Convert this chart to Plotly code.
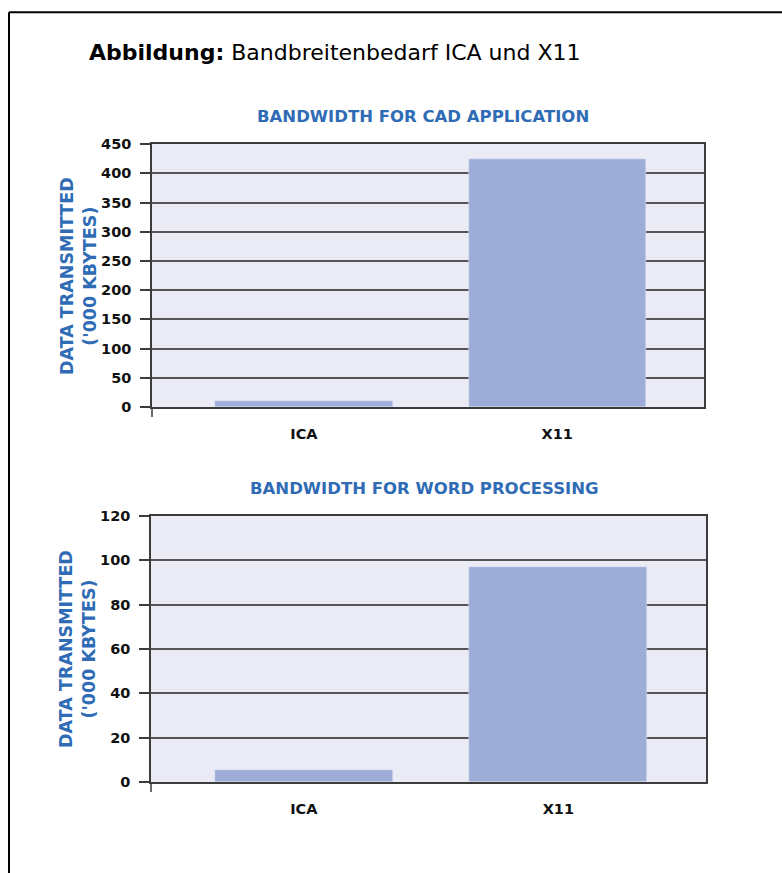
import plotly.graph_objects as go

# ---- data ----
categories = ["ICA", "X11"]
cad_values = [10, 424]
word_values = [5.3, 97]
cad_ticks = [0, 50, 100, 150, 200, 250, 300, 350, 400, 450]
word_ticks = [0, 20, 40, 60, 80, 100, 120]

main_title = "<b>Abbildung:</b> Bandbreitenbedarf ICA und X11"
cad_title = "BANDWIDTH FOR CAD APPLICATION"
word_title = "BANDWIDTH FOR WORD PROCESSING"
y_title = "DATA TRANSMITTED<br>('000 KBYTES)"

W, H = 782, 873
BLUE = "#2f6cb5"
BAR = "#9dadd7"
BG = "#ebebf6"
GRID = "#555555"
AX = "#3c3c3c"
BOLD = "DejaVu Sans"

fig = go.Figure()
fig.add_trace(go.Bar(x=categories, y=cad_values, marker_color=BAR, width=0.7,
                     xaxis="x", yaxis="y", showlegend=False))
fig.add_trace(go.Bar(x=categories, y=word_values, marker_color=BAR, width=0.7,
                     xaxis="x2", yaxis="y2", showlegend=False))

VS = 0.982  # observed vertical scaling of the photographed page


def px_x(p):
    return p / W


def px_y(p):
    q = H / 2 + (p - H / 2) / VS
    return 1 - q / H


xcommon = dict(type="category", range=[-0.6, 1.58], showgrid=False, ticks="",
               showline=True, linecolor=AX, linewidth=1.5, mirror=True,
               tickfont=dict(family=BOLD, size=14.5, color="#111", weight="bold"),
               ticklabelstandoff=13, fixedrange=True)
ycommon = dict(showgrid=True, gridcolor=GRID, gridwidth=1.6, zeroline=False,
               showline=True, linecolor=AX, linewidth=1.5, mirror=True,
               ticks="outside", ticklen=10, tickwidth=1.5, tickcolor=AX,
               tickfont=dict(family=BOLD, size=14.5, color="#111", weight="bold"),
               ticklabelstandoff=6, fixedrange=True)

fig.update_layout(
    width=W, height=H, margin=dict(l=0, r=0, t=0, b=0),
    paper_bgcolor="white", plot_bgcolor=BG, bargap=0,
    xaxis=dict(domain=[px_x(152), px_x(704)], anchor="y", **xcommon),
    yaxis=dict(domain=[px_y(407), px_y(144)], anchor="x", range=[0, 450],
               tickvals=cad_ticks, **ycommon),
    xaxis2=dict(domain=[px_x(151), px_x(706)], anchor="y2", **xcommon),
    yaxis2=dict(domain=[px_y(782), px_y(516)], anchor="x2", range=[0, 120],
                tickvals=word_ticks, **ycommon),
)

annotations = [
    dict(text=main_title, x=px_x(87), y=px_y(52), xref="paper", yref="paper",
         xanchor="left", yanchor="middle", showarrow=False,
         font=dict(family="DejaVu Sans", size=22, color="#000")),
    dict(text=cad_title, x=px_x(423), y=px_y(116), xref="paper", yref="paper",
         xanchor="center", yanchor="middle", showarrow=False,
         font=dict(family=BOLD, size=16.5, color=BLUE, weight="bold")),
    dict(text=word_title, x=px_x(424), y=px_y(489), xref="paper", yref="paper",
         xanchor="center", yanchor="middle", showarrow=False,
         font=dict(family=BOLD, size=16.5, color=BLUE, weight="bold")),
    dict(text=y_title, x=px_x(78), y=px_y(276), xref="paper", yref="paper",
         xanchor="center", yanchor="middle", showarrow=False, textangle=-90,
         font=dict(family=BOLD, size=17.5, color=BLUE, weight="bold")),
    dict(text=y_title, x=px_x(78), y=px_y(649), xref="paper", yref="paper",
         xanchor="center", yanchor="middle", showarrow=False, textangle=-90,
         font=dict(family=BOLD, size=17.5, color=BLUE, weight="bold")),
]
fig.update_layout(annotations=annotations)

shapes = [
    # outer frame (left and top edges)
    dict(type="line", xref="paper", yref="paper", x0=px_x(9), x1=px_x(9),
         y0=-0.05, y1=px_y(12), line=dict(color="#000", width=2)),
    dict(type="line", xref="paper", yref="paper", x0=px_x(9), x1=1.05,
         y0=px_y(12), y1=px_y(12), line=dict(color="#000", width=2)),
    # y-axis extensions below zero
    dict(type="line", xref="x domain", yref="y domain", x0=0, x1=0,
         y0=0, y1=-10 / 263, line=dict(color=AX, width=1.5)),
    dict(type="line", xref="x2 domain", yref="y2 domain", x0=0, x1=0,
         y0=0, y1=-10 / 266, line=dict(color=AX, width=1.5)),
]
fig.update_layout(shapes=shapes)

fig.write_html("out.html")
